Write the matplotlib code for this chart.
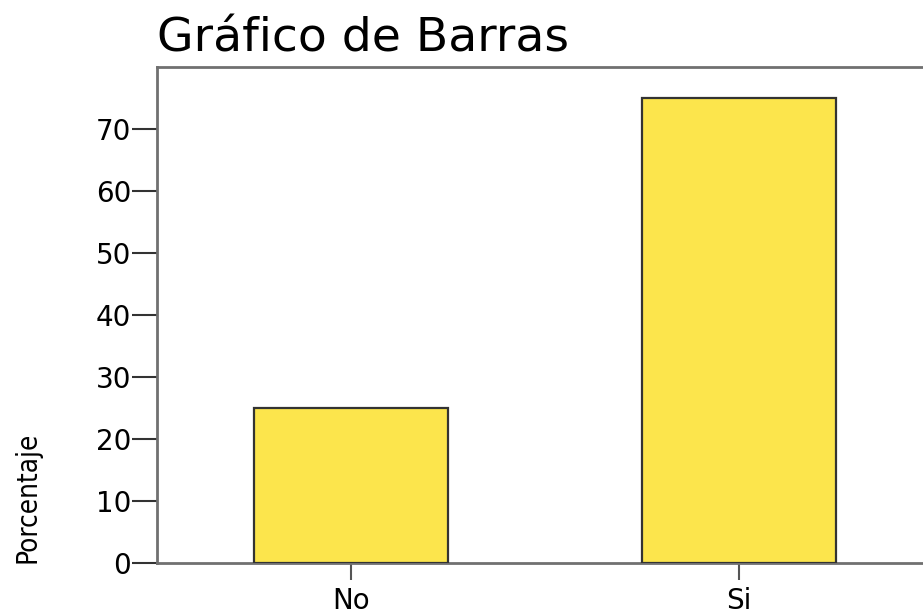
import matplotlib.pyplot as plt

categorias = ['No', 'Si']
porcentajes = [25, 75]
ticks_y = [0, 10, 20, 30, 40, 50, 60, 70]

fig = plt.figure(figsize=(9.23, 6.14), dpi=100)
# el marco sale un poco por la derecha, como en la captura
ax = fig.add_axes([0.170, 0.083, 0.841, 0.808])

ax.bar(range(len(categorias)), porcentajes, width=0.5, color='#fce54c',
       edgecolor='#333333', linewidth=1.6, zorder=3)

ax.set_xlim(-0.5, 1.5)
ax.set_ylim(0, 80)
ax.set_xticks(range(len(categorias)))
ax.set_xticklabels(categorias)
ax.set_yticks(ticks_y)

for s in ax.spines.values():
    s.set_color('#707070')
    s.set_linewidth(2)

ax.tick_params(axis='y', length=18, width=1.5, color='#333333', labelsize=20, pad=0.5)
ax.tick_params(axis='x', length=12, width=1.5, color='#555555', labelsize=20, pad=5)

ax.set_title('Gráfico de Barras', fontsize=34, loc='left', x=0.0, pad=11)

fig.text(28 / 923, 51 / 614, 'Porcentaje', rotation=90, ha='center', va='bottom',
         fontsize=20, fontstretch='condensed',
         family=['Liberation Sans Narrow', 'DejaVu Sans'])

fig.savefig('out.png', dpi=100)
